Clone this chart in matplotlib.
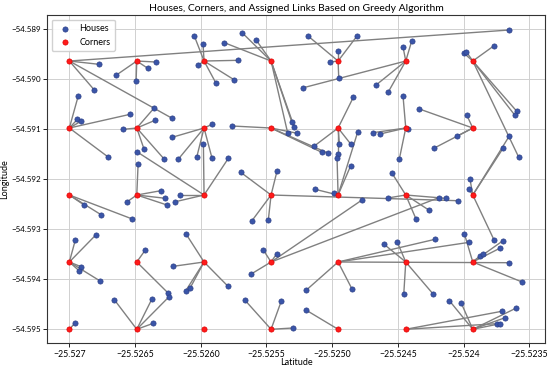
import matplotlib
matplotlib.use("Agg")
import matplotlib.pyplot as plt

# ================= DATA =================

# corner grid (columns left->right, rows top->bottom)
corner_cols = [-25.527000, -25.526487, -25.525975, -25.525465, -25.524955, -25.524440, -25.523930]
corner_rows = [-54.589634, -54.590974, -54.592314, -54.593654, -54.595000]

house_x = [
    -25.526774, -25.526810, -25.526218, -25.523654, -25.526049, -25.525983, -25.525820, -25.526338,
    -25.526403, -25.526645, -25.526492, -25.526021, -25.525886, -25.525747, -25.525714, -25.525683,
    -25.525579, -25.525186, -25.524811, -25.524955, -25.525016, -25.524950, -25.525219, -25.524461,
    -25.524394, -25.524666, -25.524572, -25.523996, -25.523979, -25.523768, -25.523595, -25.523611,
    -25.523580, -25.524839, -25.526932, -25.526353, -25.526538, -25.526348, -25.526939, -25.526909,
    -25.526589, -25.525914, -25.525760, -25.525308, -25.525288, -25.525338, -25.525265, -25.525136,
    -25.525079, -25.525029, -25.524955, -25.524963, -25.524945, -25.524859, -25.524805, -25.524691,
    -25.524636, -25.524425, -25.524489, -25.524461, -25.524336, -25.523976, -25.524222, -25.524047,
    -25.523652, -25.523697, -25.526708, -25.526432, -25.526483, -25.526277, -25.526218, -25.526170,
    -25.526030, -25.525980, -25.525914, -25.525790, -25.526477, -25.526304, -25.526269, -25.526257,
    -25.526563, -25.526158, -25.526193, -25.526888, -25.526759, -25.526521, -25.525696, -25.525419,
    -25.525612, -25.525486, -25.525130, -25.524986, -25.524859, -25.524773, -25.524547, -25.524362,
    -25.524265, -25.524577, -25.524189, -25.524136, -25.524042, -25.523951, -25.523961, -25.526954,
    -25.526797, -25.526911, -25.526924, -25.526766, -25.526957, -25.526422, -25.526249, -25.526241,
    -25.526658, -25.526373, -25.526361, -25.526112, -25.526209, -25.526114, -25.526081, -25.525795,
    -25.525524, -25.525422, -25.525620, -25.525196, -25.524849, -25.525665, -25.525387, -25.525298,
    -25.525196, -25.524605, -25.524504, -25.524217, -25.523994, -25.523956, -25.523875, -25.523854,
    -25.523768, -25.523700, -25.523725, -25.523652, -25.523555, -25.524455, -25.524234, -25.524108,
    -25.524017, -25.523709, -25.523603, -25.523684, -25.523747, -25.523722,
]

house_y = [
    -54.589700, -54.590214, -54.590780, -54.589014, -54.589134, -54.589288, -54.589268, -54.589654,
    -54.589780, -54.589920, -54.590028, -54.589720, -54.590068, -54.590008, -54.589620, -54.589074,
    -54.589214, -54.589128, -54.589134, -54.589428, -54.589654, -54.589974, -54.590168, -54.589348,
    -54.589228, -54.590114, -54.590248, -54.589480, -54.589448, -54.589328, -54.590640, -54.590714,
    -54.591560, -54.590360, -54.590328, -54.590568, -54.590700, -54.590820, -54.590800, -54.590834,
    -54.591000, -54.590900, -54.590934, -54.590848, -54.590960, -54.591080, -54.591080, -54.591334,
    -54.591460, -54.591480, -54.591500, -54.591568, -54.591300, -54.591294, -54.591048, -54.591068,
    -54.591094, -54.591000, -54.591594, -54.590328, -54.590594, -54.590714, -54.591374, -54.591134,
    -54.591134, -54.591368, -54.591548, -54.591394, -54.591454, -54.591600, -54.591160, -54.591594,
    -54.591548, -54.591294, -54.591580, -54.591580, -54.591700, -54.592228, -54.592380, -54.592514,
    -54.592454, -54.592314, -54.592448, -54.592514, -54.592708, -54.592794, -54.591860, -54.591828,
    -54.592834, -54.592814, -54.592200, -54.592268, -54.591728, -54.592414, -54.591868, -54.592794,
    -54.592614, -54.592374, -54.592368, -54.592380, -54.592428, -54.592000, -54.592194, -54.593208,
    -54.593108, -54.593748, -54.593834, -54.594034, -54.594874, -54.593414, -54.594274, -54.594348,
    -54.594408, -54.594400, -54.594880, -54.593094, -54.593740, -54.594228, -54.594174, -54.594134,
    -54.593414, -54.593488, -54.593900, -54.594214, -54.594194, -54.594414, -54.594434, -54.594974,
    -54.594620, -54.593300, -54.593260, -54.593200, -54.593088, -54.593260, -54.593534, -54.593500,
    -54.593214, -54.593228, -54.593380, -54.593668, -54.594054, -54.594288, -54.594288, -54.594428,
    -54.594480, -54.594640, -54.594580, -54.594768, -54.594888, -54.594888,
]

# assigned corner for each house (column index, row index)
link_col = [
    0, 0, 0, 0, 2, 2, 3, 1, 1, 1, 1, 2, 2, 2, 2, 3, 3, 4, 4, 4, 4, 4, 5, 5, 5, 5, 5, 6, 6, 6,
    6, 6, 6, 4, 0, 1, 0, 1, 0, 0, 1, 2, 3, 3, 3, 3, 3, 4, 3, 3, 4, 4, 4, 4, 4, 5, 5, 5, 5, 5,
    6, 6, 6, 6, 6, 6, 0, 1, 2, 1, 2, 2, 2, 2, 2, 2, 1, 1, 1, 1, 1, 2, 2, 0, 0, 0, 3, 3, 3, 3,
    4, 4, 4, 3, 5, 5, 5, 5, 3, 5, 3, 6, 6, 0, 0, 0, 0, 0, 0, 1, 1, 1, 1, 1, 1, 2, 2, 2, 2, 2,
    3, 3, 3, 4, 4, 3, 3, 3, 4, 5, 5, 4, 6, 4, 6, 6, 6, 6, 6, 4, 6, 5, 5, 6, 6, 5, 6, 6, 5, 6,
]
link_row = [
    0, 0, 0, 0, 0, 0, 0, 0, 0, 0, 0, 0, 0, 0, 0, 0, 0, 0, 0, 0, 0, 0, 0, 0, 0, 0, 0, 0, 0, 0,
    0, 0, 0, 1, 1, 1, 1, 1, 1, 1, 1, 1, 1, 0, 0, 0, 1, 1, 1, 1, 1, 2, 1, 1, 2, 1, 1, 1, 1, 1,
    1, 1, 1, 1, 2, 2, 1, 1, 2, 1, 1, 1, 1, 2, 1, 2, 2, 2, 2, 2, 2, 2, 2, 2, 2, 2, 2, 2, 2, 2,
    2, 2, 2, 3, 2, 2, 2, 2, 3, 2, 2, 2, 2, 3, 3, 3, 3, 3, 4, 3, 3, 4, 4, 4, 4, 3, 3, 3, 3, 3,
    3, 3, 3, 3, 3, 4, 4, 4, 4, 3, 3, 3, 3, 3, 3, 3, 2, 3, 3, 3, 3, 3, 3, 4, 4, 4, 4, 4, 4, 4,
]

xtick_vals   = [-25.527, -25.5265, -25.5260, -25.5255, -25.5250, -25.5245, -25.524, -25.5235]
xtick_labels = ["\u221225.527", "\u221225.5265", "\u221225.5260", "\u221225.5255",
                "\u221225.5250", "\u221225.5245", "\u221225.524", "\u221225.5235"]
ytick_vals   = [-54.589, -54.590, -54.591, -54.592, -54.593, -54.594, -54.595]
ytick_labels = ["\u221254.589", "\u221254.590", "\u221254.591", "\u221254.592",
                "\u221254.593", "\u221254.594", "\u221254.595"]

# ================= CHART =================

plt.rcParams["font.family"] = ["Lato", "DejaVu Sans"]

fig = plt.figure(figsize=(5.5, 3.71), dpi=100)
ax = fig.add_axes([0.0855, 0.0755, 0.9055, 0.884])

for hx, hy, c, r in zip(house_x, house_y, link_col, link_row):
    ax.plot([hx, corner_cols[c]], [hy, corner_rows[r]], color="#808080", lw=1.0, zorder=1)

ax.scatter(house_x, house_y, s=14, color="#3a55a8", edgecolor="#2c3f88", lw=0.5,
           label="Houses", zorder=2)
cx = [x for y in corner_rows for x in corner_cols]
cy = [y for y in corner_rows for x in corner_cols]
ax.scatter(cx, cy, s=14, color="#ff1a1a", edgecolor="#e00000", lw=0.5,
           label="Corners", zorder=3)

ax.set_xlim(-25.52717, -25.52338)
ax.set_ylim(-54.595274, -54.588714)
ax.set_xticks(xtick_vals)
ax.set_xticklabels(xtick_labels)
ax.set_yticks(ytick_vals)
ax.set_yticklabels(ytick_labels)
ax.tick_params(labelsize=6.3, length=3, width=0.6, pad=2)
ax.tick_params(axis="y", labelsize=5.8, pad=1.5)

ax.set_title("Houses, Corners, and Assigned Links Based on Greedy Algorithm", fontsize=7.5, pad=3)
ax.set_xlabel("Latitude", fontsize=6.5, labelpad=-1)
ax.set_ylabel("Longitude", fontsize=6.5)
ax.yaxis.set_label_coords(-0.077, 0.5)
ax.grid(True, color="#d0d0d0", lw=0.7)
ax.set_axisbelow(True)
for s in ax.spines.values():
    s.set_color("#333333")
    s.set_linewidth(0.8)

ax.legend(loc="upper left", fontsize=6.5, handletextpad=0.6, borderpad=0.5,
          labelspacing=0.5, framealpha=0.9)

fig.savefig("out.png", dpi=100)
plt.close(fig)
